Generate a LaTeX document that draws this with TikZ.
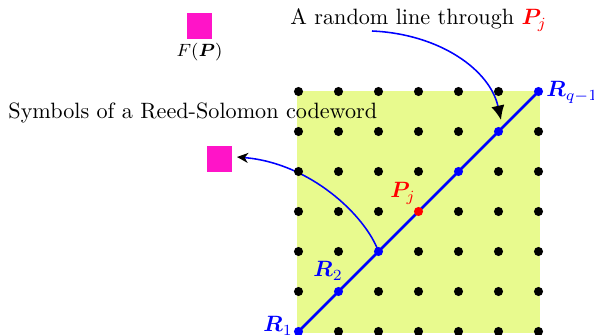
\documentclass[tikz,border=0pt]{standalone}
\usepackage{amsmath,bm}
\usetikzlibrary{arrows.meta,backgrounds}
\definecolor{rsgreen}{RGB}{232,250,142}
\definecolor{rsmag}{RGB}{255,20,200}
\begin{document}
\begin{tikzpicture}[x=0.451pt,y=-0.451pt,
  gdot/.style={circle,fill=black,inner sep=0pt,minimum size=4.1pt},
  bdot/.style={gdot,fill=blue},
  rdot/.style={gdot,fill=red},
  sqbox/.style={fill=rsmag,minimum size=11.3pt,inner sep=0pt},
  lbl/.style={inner sep=0pt,anchor=base west},
  arr/.style={blue,line width=0.7pt}]
\useasboundingbox (0,0) rectangle (594,335);
% grid dots
\foreach \i in {0,...,6}{
  \foreach \j in {0,...,6}{
    \ifnum\i=\j\else
      \node[gdot] (g\i\j) at ({298.5+40*\i},{331.5-40*\j}) {};
    \fi
  }
}
% diagonal points
\node[bdot] (R1) at (298.5,331.5) {};
\node[bdot] (R2) at (338.5,291.5) {};
\node[bdot] (d2) at (378.5,251.5) {};
\node[rdot] (Pj) at (418.5,211.5) {};
\node[bdot] (d4) at (458.5,171.5) {};
\node[bdot] (d5) at (498.5,131.5) {};
\node[bdot] (Rq) at (538.5,91.5) {};
% squares
\node[sqbox] (sq1) at (199.5,26) {};
\node[sqbox] (sq2) at (219.5,159) {};
% texts
\node[lbl] (tline) at (290,25) {A random line through {\color{red}$\bm{P}_j$}};
\node[lbl] (tsym) at (8,119) {Symbols of a Reed-Solomon codeword};
\node[inner sep=0pt,anchor=base] (tF) at (199.5,57) {\footnotesize $F(\bm{P})$};
\node[lbl,blue] (lR1) at (263,332) {$\bm{R}_1$};
\node[lbl,blue] (lR2) at (313,277) {$\bm{R}_2$};
\node[lbl,blue] (lRq) at (546,97) {$\bm{R}_{q-1}$};
\node[lbl,red] (lPj) at (390,198) {$\bm{P}_j$};
\coordinate (a1s) at (372,31);
\coordinate (a1e) at (501,120);
\coordinate (a2e) at (237,157);
\begin{scope}[on background layer]
  \fill[rsgreen] (297.5,91) rectangle (540,333);
  \draw[blue,line width=1.2pt] (R1.center) -- (Rq.center);
  \draw[arr,-{Stealth[length=5pt,width=4.5pt,inset=1.5pt,black]}]
    (d2.center) .. controls (365,215) and (310,163) .. (a2e);
\end{scope}
\draw[arr,-{Latex[length=6.5pt,width=6pt,black]}]
  (a1s) .. controls (440,34) and (490,70) .. (a1e);
\end{tikzpicture}
\end{document}
